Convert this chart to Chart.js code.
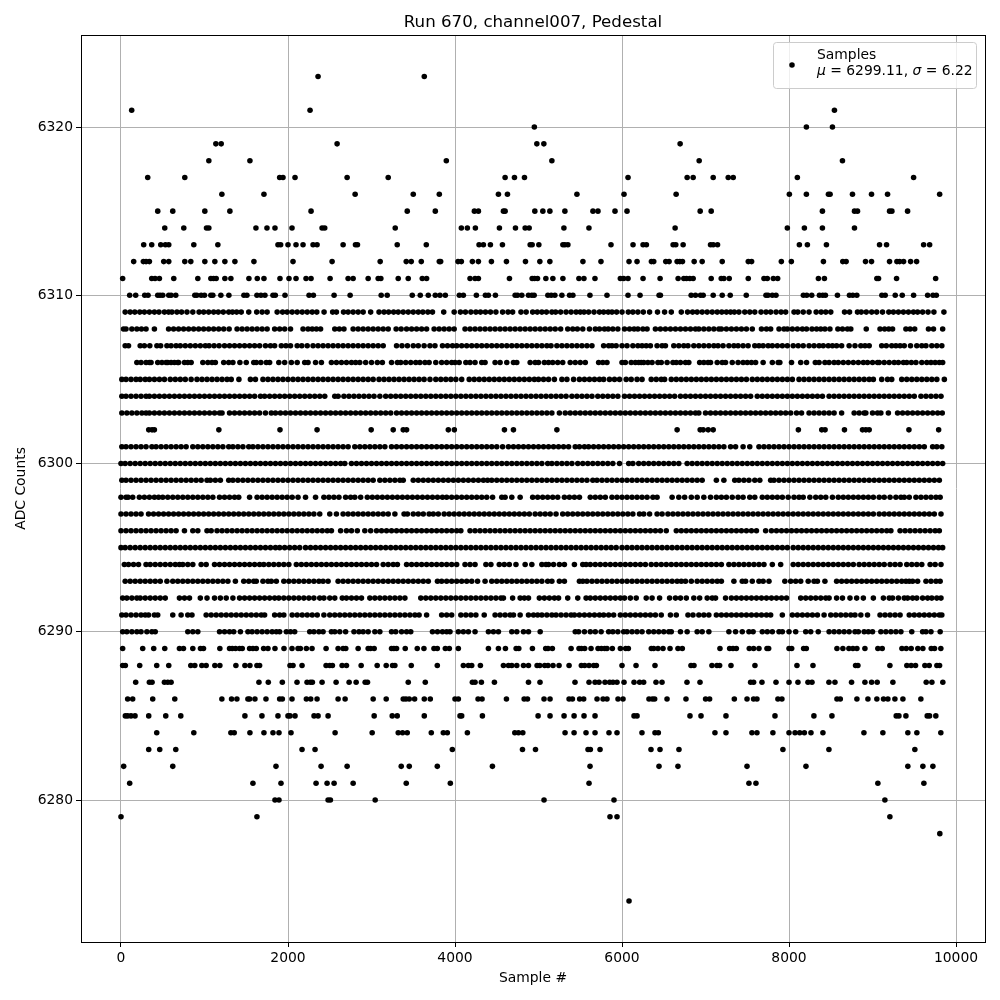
<!DOCTYPE html>
<html><head><meta charset="utf-8">
<style>html,body{margin:0;padding:0;background:#fff}#w{width:1000px;height:1000px}</style>
<script src="https://cdn.jsdelivr.net/npm/chart.js@4"></script></head>
<body><div id="w"><canvas id="c" width="1000" height="1000"></canvas></div>
<script>
const chartTitle="Run 670, channel007, Pedestal", xLabel="Sample #", yLabel="ADC Counts";
const xTicks=[0,2000,4000,6000,8000,10000], yTicks=[6280,6290,6300,6310,6320];
const row6323=[2360,3632];
const row6321=[128,2264,8544];
const row6320=[4950,8208,8520];
const row6319=[1136,1200,2588,4980,5064,6696];
const row6318=[1052,1544,3896,5160,6924,8640];
const row6317=[320,764,1900,1940,2084,2708,3200,4600,4712,4832,6072,6780,6852,7092,7272,7332,8100,9492];
const row6316=[1208,1712,2804,3500,3812,4520,4628,5460,6024,6648,8004,8208,8472,8492,8760,8988,9180,9804];
const row6315=[440,620,1004,1304,2276,3428,3764,4232,4280,4580,4600,4956,5052,5136,5316,5652,5712,5916,6060,6936,7068,8400,8784,8820,9204,9232,9420];
const row6314=[524,752,1024,1052,1616,1748,1844,2048,2408,2440,3284,4076,4148,4244,4532,4724,4840,4888,5304,5604,6636,7980,8184,8400,8784];
const row6313=[272,368,476,532,572,872,1160,1880,1912,2000,2096,2180,2300,2348,2660,2808,2832,3308,3656,4288,4340,4424,4568,4900,4924,5004,5292,5316,5352,5868,6132,6252,6292,6612,6644,6732,7060,7092,7144,8124,8220,8448,9084,9168,9612,9684];
const row6312=[152,268,300,340,512,572,764,836,1004,1124,1244,1364,1592,2060,2528,3104,3416,3476,3596,3812,3828,4036,4076,4208,4280,4436,4616,4844,5016,5136,5532,5748,6084,6180,6352,6380,6524,6564,6660,6692,6724,6864,6960,7200,7512,7552,7908,8028,8412,8644,8684,8916,8988,9204,9292,9324,9372,9456,9528];
const row6311=[20,368,408,460,632,920,1076,1108,1140,1244,1316,1532,1632,1712,1904,2012,2096,2216,2276,2504,2720,2780,2960,3080,3112,3320,3440,3608,3660,4180,4240,4280,4652,4924,4952,4988,5088,5172,5292,5484,5544,5676,5980,6020,6072,6252,6456,6672,6740,6772,6812,6852,7068,7188,7220,7284,7512,7700,7740,7812,7864,8352,8424,9052,9072,9288,9756];
const row6310=[104,176,284,324,440,468,500,572,600,656,884,908,960,1000,1076,1100,1196,1292,1472,1508,1628,1676,1724,1820,1848,1964,2252,2304,2552,2744,3116,3188,3488,3584,3680,3764,3820,3884,4052,4100,4256,4364,4400,4484,4720,4748,4800,4880,4920,4948,5112,5152,5196,5280,5372,5412,5616,5820,6072,6216,6444,6460,6828,6880,6940,6972,7092,7200,7296,7488,7724,7748,7800,7844,8172,8212,8272,8364,8404,8436,8580,8724,8764,8812,9112,9152,9272,9356,9492,9660,9724,9764];
const row6309=[50,110,165,225,280,340,400,455,520,570,610,670,725,790,860,935,990,1050,1110,1165,1225,1290,1335,1385,1440,1530,1625,1690,1750,1870,1935,1990,2050,2110,2170,2230,2290,2345,2432,2535,2580,2665,2720,2780,2840,2900,2990,3090,3150,3205,3265,3320,3380,3440,3500,3560,3615,3675,3730,3865,3990,4065,4125,4190,4250,4305,4365,4425,4490,4570,4635,4690,4790,4852,4930,4985,5040,5095,5160,5205,5265,5330,5390,5450,5500,5545,5600,5665,5730,5780,5835,5880,5935,6000,6075,6130,6190,6255,6330,6425,6510,6590,6710,6785,6845,6900,6960,7020,7080,7140,7195,7250,7300,7345,7400,7470,7530,7590,7665,7725,7780,7845,7905,7960,8060,8105,8170,8240,8325,8385,8440,8500,8665,8725,8820,8865,8925,8990,9050,9120,9195,9250,9310,9370,9430,9490,9540,9600,9665,9735,9855];
const row6308=[30,60,130,190,245,300,400,570,630,690,750,810,870,930,990,1050,1110,1170,1230,1295,1390,1450,1510,1570,1630,1690,1750,1840,1900,1960,2030,2180,2240,2290,2340,2390,2560,2615,2670,2780,2840,2900,2960,3020,3080,3140,3200,3295,3355,3420,3480,3540,3600,3660,3750,3810,3870,3930,3990,4120,4180,4240,4300,4360,4420,4480,4540,4600,4660,4720,4780,4840,4900,4960,5020,5080,5140,5200,5265,5350,5410,5465,5530,5610,5680,5730,5790,5835,5890,5950,6030,6090,6145,6190,6250,6300,6400,6460,6520,6580,6640,6700,6760,6820,6880,6920,6980,7040,7100,7160,7190,7250,7310,7370,7430,7490,7560,7670,7730,7780,7880,7940,7980,8040,8100,8160,8210,8275,8330,8380,8430,8490,8585,8640,8700,8740,8925,9090,9145,9195,9240,9400,9450,9505,9670,9730,9840];
const row6307=[50,90,230,280,345,430,475,550,600,660,710,770,830,890,950,1010,1055,1115,1175,1240,1300,1360,1420,1480,1540,1600,1660,1730,1790,1840,1920,1975,2030,2110,2165,2230,2300,2360,2420,2480,2540,2600,2660,2720,2780,2840,2900,2960,3020,3080,3140,3300,3365,3430,3500,3560,3630,3700,3760,3850,3910,3970,4020,4080,4140,4200,4260,4320,4380,4440,4500,4560,4620,4680,4740,4800,4860,4920,4980,5040,5100,5150,5220,5280,5340,5400,5460,5520,5580,5640,5780,5840,5880,5930,6000,6060,6130,6190,6240,6290,6340,6420,6480,6520,6620,6680,6740,6790,6860,6920,6980,7040,7100,7150,7210,7280,7340,7390,7450,7510,7590,7640,7690,7750,7800,7860,7920,7980,8050,8110,8170,8240,8300,8360,8410,8470,8520,8570,8630,8720,8790,8860,8910,8960,9110,9165,9230,9280,9330,9380,9455,9530,9590,9640,9710,9770,9830];
const row6306=[190,240,300,340,360,440,490,540,560,600,640,680,690,760,800,840,980,1040,1090,1130,1230,1290,1340,1424,1500,1590,1620,1675,1740,1780,1890,1960,2040,2110,2200,2240,2330,2400,2520,2580,2640,2700,2760,2810,2860,2930,3000,3070,3130,3240,3310,3350,3410,3470,3530,3580,3640,3690,3770,3840,3900,3960,4000,4050,4130,4180,4240,4320,4360,4480,4540,4620,4700,4740,4900,4960,5000,5070,5120,5170,5230,5290,5380,5440,5500,5560,5720,5770,5820,6000,6040,6110,6160,6200,6230,6260,6310,6360,6430,6470,6540,6610,6650,6700,6760,6800,6930,6980,7030,7060,7140,7200,7240,7320,7390,7450,7500,7550,7600,7690,7800,7870,7890,8030,8140,8210,8315,8360,8430,8480,8540,8590,8650,8710,8770,8830,8890,8940,9000,9060,9080,9140,9200,9260,9310,9370,9410,9465,9520,9590,9650,9700,9750,9800,9840];
const row6305=[10,60,120,180,230,290,340,400,460,520,590,650,710,770,840,910,970,1030,1090,1150,1210,1270,1320,1412,1550,1610,1700,1760,1820,1880,1940,2000,2060,2120,2180,2240,2300,2360,2420,2480,2540,2600,2660,2720,2780,2840,2900,2960,3020,3090,3150,3210,3270,3330,3390,3450,3510,3570,3630,3700,3770,3830,3890,3950,4010,4080,4170,4230,4290,4350,4410,4470,4530,4590,4650,4710,4770,4830,4890,4950,5000,5060,5120,5190,5280,5340,5420,5490,5550,5610,5670,5730,5780,5850,5910,5970,6050,6110,6180,6240,6350,6410,6470,6510,6590,6650,6710,6770,6830,6890,6950,7010,7070,7130,7190,7250,7310,7370,7430,7490,7560,7620,7680,7740,7800,7860,7920,7980,8040,8120,8180,8240,8300,8360,8420,8480,8540,8600,8660,8720,8780,8840,8900,8960,9010,9110,9180,9230,9350,9410,9470,9530,9590,9650,9710,9770,9860];
const row6304=[10,60,120,180,240,300,340,400,460,520,580,640,700,760,820,880,940,1000,1060,1120,1180,1240,1300,1360,1420,1480,1540,1600,1670,1720,1780,1840,1900,1960,2020,2080,2140,2200,2260,2320,2380,2440,2560,2600,2670,2730,2790,2850,2910,2970,3030,3100,3170,3230,3290,3350,3410,3470,3530,3590,3650,3710,3770,3830,3890,3950,4010,4070,4130,4190,4250,4310,4370,4430,4490,4550,4610,4670,4730,4790,4850,4910,4970,5030,5090,5150,5210,5270,5330,5400,5460,5520,5580,5640,5710,5770,5830,5890,5950,6030,6090,6150,6210,6270,6330,6390,6450,6510,6570,6630,6700,6760,6820,6880,6940,7000,7060,7120,7180,7240,7300,7360,7420,7480,7540,7620,7680,7740,7800,7860,7920,7980,8040,8100,8160,8220,8280,8340,8400,8480,8540,8600,8660,8720,8780,8840,8900,8960,9020,9080,9140,9200,9260,9320,9380,9440,9500,9580,9640,9700,9760,9820];
const row6303=[10,70,130,190,250,300,340,400,460,520,580,640,700,760,820,880,940,1000,1060,1120,1180,1210,1300,1360,1420,1480,1540,1600,1660,1730,1800,1850,1910,1970,2030,2090,2150,2210,2270,2330,2390,2450,2510,2570,2630,2690,2750,2810,2870,2930,2990,3050,3110,3170,3230,3300,3360,3420,3480,3540,3600,3660,3720,3780,3840,3900,3960,4020,4080,4140,4200,4260,4320,4380,4440,4500,4560,4620,4680,4740,4800,4860,4920,4980,5040,5100,5160,5250,5320,5380,5440,5500,5560,5620,5680,5740,5800,5860,5920,5980,6040,6100,6160,6220,6280,6340,6400,6460,6520,6580,6640,6700,6760,6820,6880,6920,7000,7060,7120,7180,7240,7300,7360,7420,7480,7540,7600,7660,7720,7780,7840,7900,7960,8020,8090,8150,8240,8300,8360,8420,8480,8540,8630,8780,8840,8900,8920,9000,9060,9100,9190,9300,9360,9420,9480,9540,9600,9660,9720,9780,9835];
const row6302=[332,372,400,1172,1904,2348,2996,3260,3380,3420,3920,3992,4592,4700,5220,6660,6936,6972,7032,7092,8112,8392,8432,8664,8880,8920,8960,9436,9792];
const row6301=[10,60,120,180,240,300,370,420,480,540,600,660,720,780,860,920,980,1040,1100,1160,1220,1290,1340,1400,1460,1530,1580,1640,1700,1760,1820,1880,1940,2000,2060,2120,2180,2240,2300,2360,2420,2480,2540,2600,2660,2720,2800,2860,2920,2980,3040,3100,3160,3240,3300,3360,3420,3480,3540,3600,3660,3720,3780,3840,3900,3960,4020,4080,4140,4200,4260,4320,4380,4440,4500,4570,4640,4700,4760,4820,4880,4940,5000,5060,5120,5180,5240,5300,5360,5440,5490,5550,5600,5660,5720,5780,5840,5900,5960,6020,6080,6140,6200,6260,6320,6380,6440,6500,6560,6620,6680,6740,6800,6860,6920,6980,7040,7100,7160,7220,7300,7360,7450,7530,7640,7700,7760,7820,7880,7940,8000,8060,8120,8180,8240,8300,8360,8420,8480,8540,8600,8660,8720,8780,8840,8900,8960,9020,9080,9140,9200,9260,9320,9380,9440,9500,9560,9620,9720,9770,9830];
const row6300=[0,50,110,170,230,290,350,410,470,530,590,650,710,770,830,890,950,1010,1070,1130,1190,1250,1310,1370,1430,1490,1550,1610,1670,1730,1790,1850,1910,1970,2030,2090,2150,2210,2270,2330,2390,2450,2510,2570,2630,2680,2760,2820,2880,2940,3000,3060,3120,3180,3240,3300,3360,3420,3480,3540,3600,3660,3720,3780,3840,3900,3960,4020,4080,4140,4200,4260,4320,4380,4440,4500,4560,4620,4680,4740,4800,4860,4920,4980,5040,5110,5160,5220,5280,5340,5400,5470,5530,5590,5650,5710,5770,5830,5890,5970,6080,6130,6200,6260,6320,6380,6440,6500,6560,6620,6680,6780,6840,6900,6960,7020,7080,7140,7200,7260,7320,7380,7440,7500,7560,7620,7680,7740,7800,7860,7920,7980,8040,8100,8160,8220,8280,8340,8400,8460,8520,8580,8640,8700,8760,8820,8880,8940,9000,9060,9120,9180,9240,9300,9360,9420,9480,9540,9600,9660,9720,9780,9840];
const row6299=[10,60,120,180,240,300,360,420,480,540,600,660,720,780,840,900,960,1030,1070,1130,1190,1290,1340,1400,1460,1520,1580,1640,1700,1760,1820,1880,1940,2000,2060,2120,2180,2240,2300,2360,2420,2480,2540,2600,2660,2720,2780,2840,2900,2960,3020,3100,3160,3220,3280,3340,3380,3500,3560,3620,3680,3740,3800,3860,3920,3980,4040,4100,4160,4220,4280,4340,4390,4440,4500,4560,4620,4680,4740,4800,4860,4920,4980,5040,5100,5160,5220,5280,5340,5400,5460,5520,5580,5650,5700,5760,5820,5880,5940,6000,6060,6120,6180,6240,6300,6360,6420,6480,6540,6600,6660,6720,6780,6840,6900,6960,7130,7220,7350,7400,7460,7520,7590,7650,7780,7820,7880,7940,8000,8060,8120,8180,8240,8300,8360,8420,8480,8540,8600,8660,8720,8780,8840,8900,8960,9020,9080,9140,9200,9260,9320,9380,9440,9500,9560,9620,9680,9740,9800];
const row6298=[0,60,85,140,220,280,340,400,450,500,560,620,680,740,800,860,920,980,1040,1100,1180,1240,1300,1360,1410,1540,1630,1690,1750,1810,1870,1930,1990,2050,2120,2210,2330,2430,2490,2550,2610,2690,2750,2800,2870,2950,3010,3070,3130,3190,3250,3310,3370,3430,3490,3550,3610,3670,3730,3790,3850,3900,3960,4020,4080,4140,4200,4260,4320,4380,4450,4560,4600,4680,4780,4930,4990,5050,5110,5170,5230,5310,5370,5430,5490,5620,5680,5740,5800,5880,5940,6000,6060,6120,6180,6240,6300,6370,6420,6600,6680,6750,6830,6900,6980,7060,7130,7190,7250,7320,7390,7450,7530,7590,7680,7740,7800,7860,7920,7990,8060,8120,8170,8250,8320,8380,8440,8520,8590,8650,8710,8770,8830,8890,8950,9010,9080,9140,9210,9280,9340,9380,9440,9520,9580,9640,9700,9760,9810];
const row6297=[0,60,120,180,240,330,390,450,510,570,630,690,750,810,870,930,990,1050,1110,1170,1230,1290,1350,1410,1470,1530,1590,1650,1710,1770,1830,1890,1950,2010,2070,2130,2190,2250,2310,2380,2500,2580,2660,2720,2780,2840,2900,2960,3020,3080,3140,3200,3280,3390,3430,3500,3560,3620,3690,3740,3800,3870,3930,3990,4050,4110,4170,4230,4290,4350,4410,4470,4530,4590,4650,4710,4770,4830,4890,4960,5020,5080,5140,5210,5290,5350,5410,5470,5530,5590,5650,5710,5770,5830,5890,5950,6010,6070,6130,6210,6260,6330,6420,6480,6550,6610,6670,6730,6790,6850,6910,6970,7030,7090,7150,7210,7270,7330,7390,7450,7510,7570,7630,7690,7750,7810,7870,7930,7990,8050,8110,8170,8230,8290,8350,8410,8470,8530,8590,8650,8710,8770,8830,8890,8950,9010,9080,9140,9200,9260,9320,9380,9440,9500,9560,9620,9680,9740,9820];
const row6296=[0,60,120,180,240,300,360,420,480,540,600,660,760,860,920,1030,1080,1150,1210,1270,1330,1390,1450,1510,1570,1630,1690,1750,1810,1870,1930,1990,2050,2110,2170,2230,2290,2350,2410,2470,2520,2630,2700,2760,2830,2920,2990,3060,3120,3180,3240,3300,3360,3420,3480,3540,3600,3660,3720,3780,3840,3900,3960,4020,4070,4180,4240,4300,4360,4420,4480,4540,4600,4660,4720,4780,4840,4900,4960,5020,5080,5140,5200,5260,5320,5380,5440,5500,5560,5620,5680,5740,5800,5860,5920,5980,6040,6100,6160,6220,6280,6340,6400,6460,6530,6650,6710,6770,6830,6890,6950,7010,7070,7130,7190,7250,7310,7370,7430,7490,7550,7610,7720,7790,7850,7910,7970,8030,8090,8150,8210,8270,8330,8390,8450,8510,8570,8630,8690,8750,8810,8870,8930,8990,9050,9110,9170,9220,9330,9390,9450,9510,9570,9630,9690,9750,9800];
const row6295=[0,50,110,170,230,290,350,410,470,530,590,650,710,770,830,890,950,1010,1070,1130,1190,1250,1310,1370,1430,1490,1550,1610,1670,1730,1790,1850,1900,1960,2020,2080,2140,2210,2270,2330,2390,2450,2510,2570,2630,2690,2750,2810,2870,2930,2990,3050,3110,3170,3230,3290,3350,3410,3470,3530,3590,3650,3710,3770,3830,3890,3950,4010,4070,4130,4190,4250,4310,4370,4430,4490,4550,4610,4670,4730,4790,4850,4910,4970,5030,5090,5150,5210,5270,5330,5390,5450,5510,5570,5630,5690,5750,5810,5870,5930,6000,6060,6120,6180,6240,6300,6360,6420,6480,6540,6600,6660,6720,6780,6840,6900,6960,7020,7080,7140,7200,7260,7320,7380,7440,7500,7560,7620,7680,7740,7800,7860,7920,7980,8050,8110,8170,8230,8290,8350,8410,8470,8530,8590,8650,8710,8770,8830,8890,8950,9010,9070,9130,9190,9250,9310,9370,9430,9490,9550,9610,9670,9730,9790,9840];
const row6294=[40,90,150,210,300,350,410,470,530,590,650,700,740,800,860,960,1020,1120,1180,1240,1300,1360,1420,1480,1540,1600,1660,1710,1770,1830,1890,1950,2010,2100,2160,2220,2280,2340,2400,2460,2520,2580,2640,2700,2760,2820,2880,2940,3000,3060,3140,3200,3260,3310,3420,3480,3540,3600,3660,3720,3780,3840,3900,3960,4020,4120,4180,4240,4370,4430,4530,4590,4650,4730,4840,4920,5040,5090,5120,5180,5250,5310,5430,5530,5570,5620,5680,5740,5800,5860,5920,5980,6040,6100,6160,6220,6280,6350,6410,6470,6530,6590,6650,6710,6770,6830,6890,6950,7010,7070,7130,7190,7280,7340,7400,7460,7520,7580,7640,7700,7800,7900,8050,8110,8170,8230,8290,8350,8410,8470,8530,8590,8650,8710,8770,8840,8900,8960,9020,9080,9140,9210,9270,9330,9410,9470,9530,9590,9690,9750,9820];
const row6293=[50,110,170,230,290,350,410,470,550,620,680,740,800,860,920,980,1040,1100,1160,1220,1280,1370,1470,1530,1590,1620,1700,1760,1800,1860,1950,2010,2070,2130,2190,2250,2310,2370,2420,2480,2600,2660,2720,2780,2840,2900,2960,3020,3080,3140,3200,3260,3320,3380,3440,3500,3560,3620,3680,3790,3840,3900,3960,4020,4080,4140,4200,4270,4360,4440,4500,4560,4620,4680,4740,4800,4860,4920,4980,5040,5110,5160,5250,5310,5490,5530,5580,5640,5700,5760,5820,5880,5940,6000,6060,6120,6180,6240,6300,6360,6420,6480,6540,6600,6660,6710,6760,6830,6900,6960,7020,7080,7140,7190,7340,7440,7480,7560,7640,7690,7760,7950,8020,8080,8140,8230,8300,8340,8430,8570,8630,8690,8750,8810,8870,8930,8990,9050,9110,9170,9230,9290,9350,9400,9440,9480,9540,9640,9700,9760,9810];
const row6292=[20,70,130,190,230,290,350,410,470,530,700,760,820,950,1030,1120,1190,1260,1340,1420,1480,1540,1600,1660,1720,1780,1840,1890,1950,2010,2070,2130,2190,2250,2310,2380,2430,2500,2560,2650,2700,2760,2820,2880,2980,3040,3100,3160,3220,3280,3340,3400,3590,3650,3710,3770,3830,3890,3950,4010,4070,4130,4190,4250,4310,4370,4430,4490,4550,4580,4690,4780,4830,4880,5010,5070,5130,5190,5240,5350,5470,5570,5620,5680,5740,5800,5860,5920,5980,6030,6100,6170,6290,6360,6450,6570,6640,6700,6770,6860,6930,7020,7080,7120,7240,7310,7370,7430,7490,7550,7610,7670,7730,7790,7850,7910,7970,8140,8200,8260,8320,8380,8440,8480,8570,8640,8730,8810,8890,9010,9130,9200,9240,9310,9380,9420,9480,9530,9600,9660,9710,9770,9820];
const row6291=[10,60,120,180,240,290,330,400,440,620,720,800,850,1020,1080,1140,1200,1260,1320,1380,1440,1500,1560,1620,1680,1720,1840,1900,1950,2050,2110,2170,2230,2290,2350,2430,2500,2560,2620,2680,2740,2800,2860,2920,2980,3040,3100,3160,3220,3280,3340,3400,3460,3520,3570,3660,3840,3900,3960,4070,4130,4190,4250,4350,4480,4540,4600,4660,4700,4780,4880,4940,4990,5040,5100,5160,5210,5270,5330,5390,5430,5490,5550,5610,5670,5730,5780,5840,5900,5980,6040,6100,6160,6220,6280,6340,6400,6470,6580,6650,6790,6850,6920,6980,7040,7130,7190,7250,7310,7370,7430,7490,7550,7610,7670,7730,7780,7920,8040,8100,8160,8220,8280,8340,8420,8500,8560,8620,8680,8740,8790,8860,8940,9090,9150,9210,9270,9330,9440,9500,9560,9620,9680,9740,9800,9830];
const row6290=[20,70,130,190,240,310,370,410,800,860,920,1180,1240,1300,1350,1430,1520,1570,1630,1690,1750,1810,1860,1900,1980,2030,2080,2260,2310,2370,2420,2520,2560,2620,2690,2790,2850,2900,2960,3040,3100,3240,3290,3360,3420,3470,3730,3790,3850,3900,3940,4040,4100,4160,4240,4400,4460,4520,4680,4740,4820,4880,5020,5440,5480,5550,5620,5680,5750,5840,5890,5950,6020,6060,6120,6180,6240,6320,6380,6440,6500,6560,6590,6700,6780,6900,6960,7040,7280,7360,7440,7520,7570,7680,7740,7800,7880,7920,8000,8080,8200,8260,8350,8480,8540,8600,8660,8720,8790,8830,8900,8950,9000,9100,9160,9220,9280,9340,9470,9600,9640,9700,9810];
const row6289=[20,260,392,524,700,748,860,952,988,1184,1300,1332,1372,1420,1452,1540,1580,1620,1708,1760,1844,1952,2048,2120,2148,2220,2288,2456,2600,2660,2692,2840,2960,2988,3032,3240,3268,3300,3404,3548,3628,3748,3788,3884,3932,4040,4400,4520,4604,4732,4764,4927,5086,5114,5166,5390,5485,5513,5553,5629,5713,5753,5793,5820,5884,5980,6044,6076,6351,6379,6431,6491,6575,6670,6722,7173,7289,7329,7369,7524,7576,7640,7736,7756,8000,8032,8175,8207,8574,8645,8717,8765,8813,8909,9064,9116,9352,9404,9463,9543,9603,9703,9743,9818];
const row6288=[20,52,224,428,572,836,884,968,1020,1124,1184,1376,1484,1544,1628,1660,2024,2060,2168,2456,2500,2532,2648,2700,2876,3068,3176,3252,3280,3476,3788,4100,4160,4200,4304,4580,4640,4680,4740,4820,4880,4983,5015,5074,5114,5174,5246,5366,5513,5553,5605,5661,5693,6000,6168,6395,6826,6862,7077,7137,7169,7305,7592,8095,8287,8797,8825,9208,9411,9463,9515,9627,9679,9771,9803];
const row6287=[176,340,372,520,560,600,1652,1764,1932,2108,2228,2268,2292,2408,2576,2732,2816,2924,2952,3440,3644,4208,4240,4316,4472,4880,5018,5437,5605,5677,5725,5796,5852,5892,5940,6024,6144,6211,6259,6407,6479,6778,6934,7540,7576,7676,7844,8000,8107,8227,8275,8478,8550,8749,8909,8989,9056,9244,9643,9711,9842];
const row6286=[80,140,380,644,1208,1324,1388,1520,1540,1604,1736,1900,1932,2048,2220,2272,2348,2600,2684,3020,3176,3380,3412,3452,3516,3632,3704,4000,4040,4276,4324,4616,4828,4868,5066,5138,5366,5406,5493,5541,5701,5773,5820,5952,6012,6323,6363,6391,6539,6766,7001,7049,7345,7497,7576,7616,7867,7915,8574,8614,8813,8945,9052,9132,9184,9268,9364,9579];
const row6285=[52,80,120,168,332,536,716,1484,1688,1880,2000,2024,2084,2312,2360,2480,3032,3248,3308,3632,4060,4080,4328,4995,5138,5306,5426,5545,5677,6144,6180,6814,6946,7245,7832,8298,8514,9284,9316,9400,9655,9683,9758];
const row6284=[428,872,1316,1356,1544,1712,1820,1892,2036,2564,3008,3320,3372,3428,3716,3860,3908,4148,4716,4760,4812,5318,5426,5569,5677,5844,5940,6239,6395,6435,7113,7245,7556,7616,7807,8000,8072,8128,8184,8263,8406,8897,9124,9423,9531,9818];
const row6283=[332,464,656,2168,2324,3968,4808,4964,5593,5621,5737,6347,6455,6682,7927,8478,9507];
const row6282=[32,620,1856,2396,2708,3356,3452,3788,4448,5617,6443,6670,7497,8203,9423,9603,9723];
const row6281=[104,1580,1916,2336,2468,2552,2780,3416,3944,5605,7520,7604,9064,9615];
const row6280=[1844,1892,2480,2508,3044,5066,5904,9148];
const row6279=[0,1628,5856,5940,9208];
const row6278=[9806];
const row6274=[6084];
const rows=[[6323,row6323],[6321,row6321],[6320,row6320],[6319,row6319],[6318,row6318],[6317,row6317],[6316,row6316],[6315,row6315],[6314,row6314],[6313,row6313],[6312,row6312],[6311,row6311],[6310,row6310],[6309,row6309],[6308,row6308],[6307,row6307],[6306,row6306],[6305,row6305],[6304,row6304],[6303,row6303],[6302,row6302],[6301,row6301],[6300,row6300],[6299,row6299],[6298,row6298],[6297,row6297],[6296,row6296],[6295,row6295],[6294,row6294],[6293,row6293],[6292,row6292],[6291,row6291],[6290,row6290],[6289,row6289],[6288,row6288],[6287,row6287],[6286,row6286],[6285,row6285],[6284,row6284],[6283,row6283],[6282,row6282],[6281,row6281],[6280,row6280],[6279,row6279],[6278,row6278],[6274,row6274]];
const points=rows.flatMap(([level,xs])=>xs.map(x=>({x,y:level})));
const FONT='"DejaVu Sans"';
const frame={id:'frame',afterDraw(c){
  const a=c.chartArea,g=c.ctx;g.save();
  g.strokeStyle='#000';g.lineWidth=1;g.strokeRect(Math.round(a.left)+.5,Math.round(a.top)+.5,Math.round(a.right-a.left),Math.round(a.bottom-a.top));
  g.fillStyle='rgba(255,255,255,0.8)';g.strokeStyle='#cccccc';g.beginPath();g.roundRect(773.5,42.5,203,46,3);g.fill();g.stroke();
  g.fillStyle='#000';g.beginPath();g.arc(792,65,2.78,0,Math.PI*2);g.fill();
  g.textBaseline='alphabetic';g.textAlign='left';
  const R=`13.89px ${FONT}`,I=`italic 13.89px ${FONT}`;
  g.font=R;g.fillText('Samples',817,59);
  let x=817;const y=75;
  for(const [t,f] of [['μ',I],[' = 6299.11, ',R],['σ',I],[' = 6.22',R]]){g.font=f;g.fillText(t,x,y);x+=g.measureText(t).width;}
  g.restore();
}};
new Chart(document.getElementById('c'),{type:'scatter',
 data:{datasets:[{label:'Samples',data:points,backgroundColor:'#000',borderWidth:0,pointRadius:2.78,pointHoverRadius:2.78}]},
 plugins:[frame],
 options:{responsive:false,animation:false,events:[],
  layout:{padding:{left:0,right:15,top:0,bottom:0}},
  plugins:{legend:{display:false},tooltip:{enabled:false},
   title:{display:true,fullSize:false,text:chartTitle,color:'#000',font:{family:FONT,size:16.67,weight:'normal',lineHeight:1},padding:{top:14,bottom:4.33}}},
  scales:{
   x:{type:'linear',min:-479,max:10347,afterBuildTicks:s=>{s.ticks=xTicks.map(v=>({value:v}));},afterFit:s=>{s.height=58;},
    border:{display:false},grid:{color:'#b0b0b0',lineWidth:1,tickColor:'#000',tickLength:5,tickWidth:1},
    ticks:{color:'#000',maxRotation:0,autoSkip:false,padding:3,font:{family:FONT,size:13.89},callback:v=>String(v)},
    title:{display:true,text:xLabel,color:'#000',font:{family:FONT,size:13.89},padding:{top:4,bottom:13}}},
   y:{type:'linear',min:6271.56,max:6325.47,afterBuildTicks:s=>{s.ticks=yTicks.map(v=>({value:v}));},afterFit:s=>{s.width=81;},
    border:{display:false},grid:{color:'#b0b0b0',lineWidth:1,tickColor:'#000',tickLength:5,tickWidth:1},
    ticks:{color:'#000',autoSkip:false,padding:3,font:{family:FONT,size:13.89},callback:v=>String(v)},
    title:{display:true,text:yLabel,color:'#000',font:{family:FONT,size:13.89},padding:{top:13,bottom:4}}}
  }}});
</script></body></html>
